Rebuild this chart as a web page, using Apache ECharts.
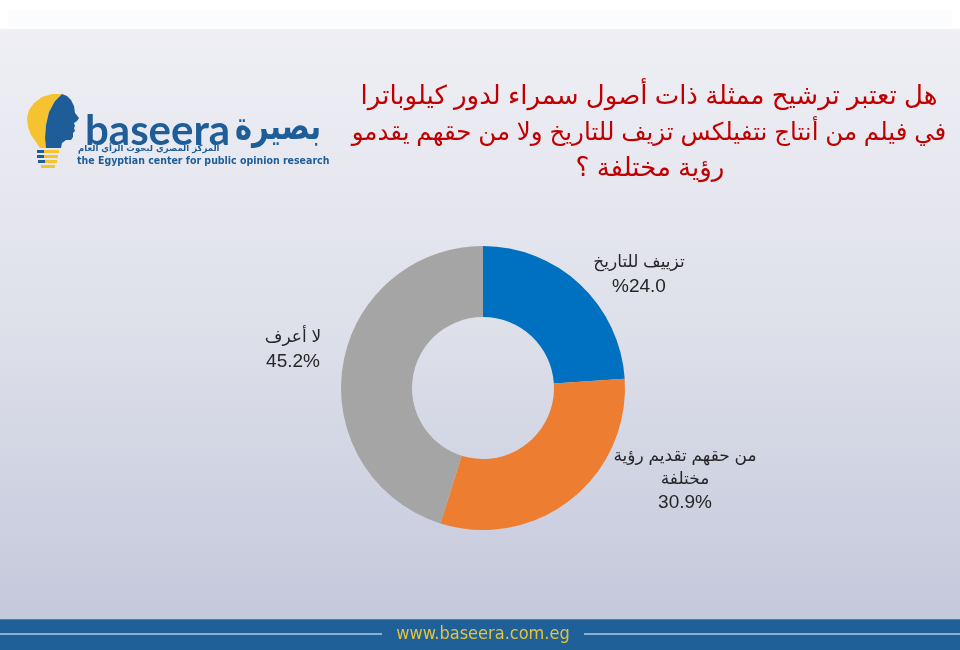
<!DOCTYPE html>
<html>
<head>
<meta charset="utf-8">
<script src="https://cdn.jsdelivr.net/npm/echarts@6/dist/echarts.min.js"></script>
<style>
html,body{margin:0;padding:0;background:#fff;}
#chart{width:960px;height:650px;}
</style>
</head>
<body>
<div id="chart"></div>
<script>
const titleLines = ['هل تعتبر ترشيح ممثلة ذات أصول سمراء لدور كيلوباترا', 'في فيلم من أنتاج نتفيلكس تزيف للتاريخ ولا من حقهم يقدمو', 'رؤية مختلفة ؟'];
const categories = ['تزييف للتاريخ', 'من حقهم تقديم رؤية\nمختلفة', 'لا أعرف'];
const values = [24.0, 30.9, 45.2];
const valueLabels = ['%24.0', '30.9%', '45.2%'];
const colors = ['#0070c0', '#ed7d31', '#a5a5a5'];

const labelPos = [[639, 275], [685, 480], [293, 350]];
const FONT = "'Liberation Sans', 'DejaVu Sans', sans-serif";

const chart = echarts.init(document.getElementById('chart'));

const yellowPts = [[62,94],[52,94],[42,97],[34,103],[29,110],[27,118],[28,127],[31,135],[36,142],[40,148],[46,148],[45,138],[46,125],[49,112],[55,101]];
const bluePts = [[62,94],[55,101],[49,112],[46,125],[45,138],[46,148],[61,148],[62,143],[66,140],[71,140],[73,137],[73,133],[75,131],[74,128],[75,126],[74,123],[77,121],[79,118],[75,113],[74,106],[71,100],[67,96]];

const graphics = [
  // background
  {type:'rect', z:-10, shape:{x:0,y:0,width:960,height:650}, style:{fill:'#ffffff'}},
  {type:'rect', z:-9, shape:{x:8,y:10,width:944,height:20}, style:{fill:'#fbfcfe'}},
  {type:'rect', z:-9, shape:{x:0,y:29,width:960,height:590},
    style:{fill:new echarts.graphic.LinearGradient(0,0,0,1,[{offset:0,color:'#efeff5'},{offset:0.5,color:'#dee0ea'},{offset:1,color:'#c4c8db'}])}},
  // footer
  {type:'rect', z:-8, shape:{x:0,y:619,width:960,height:31}, style:{fill:'#1e6097'}},
  {type:'rect', z:-7, shape:{x:0,y:619,width:960,height:1}, style:{fill:'#4d82b3'}},
  {type:'rect', z:-7, shape:{x:0,y:633,width:382,height:2}, style:{fill:'#8cafd2'}},
  {type:'rect', z:-7, shape:{x:584,y:633,width:376,height:2}, style:{fill:'#8cafd2'}},
  {type:'text', z:5, style:{text:'www.baseera.com.eg', x:483, y:634, align:'center', verticalAlign:'middle',
    fill:'#e3c23f', font:"18px 'Liberation Sans Narrow', 'DejaVu Sans Condensed', sans-serif"}},
  // title
  {type:'text', z:5, style:{text:titleLines[0], x:649, y:97, align:'center', verticalAlign:'middle',
    fill:'#c00000', font:"26px " + FONT}},
  {type:'text', z:5, style:{text:titleLines[1], x:649, y:133, align:'center', verticalAlign:'middle',
    fill:'#c00000', font:"24.5px " + FONT}},
  {type:'text', z:5, style:{text:titleLines[2], x:650, y:169, align:'center', verticalAlign:'middle',
    fill:'#c00000', font:"26px " + FONT}},
  // logo bulb
  {type:'polygon', z:5, shape:{points:yellowPts}, style:{fill:'#f5c330'}},
  {type:'polygon', z:5, shape:{points:bluePts}, style:{fill:'#1f5d98'}},
  // bulb base stripes
  {type:'rect', z:5, shape:{x:37,y:150,width:22,height:3}, style:{fill:'#1f5d98'}},
  {type:'rect', z:6, shape:{x:44,y:150,width:15,height:3}, style:{fill:'#f5c330'}},
  {type:'rect', z:5, shape:{x:37,y:155,width:21,height:3}, style:{fill:'#1f5d98'}},
  {type:'rect', z:6, shape:{x:44,y:155,width:14,height:3}, style:{fill:'#f5c330'}},
  {type:'rect', z:5, shape:{x:38,y:160,width:19,height:3}, style:{fill:'#1f5d98'}},
  {type:'rect', z:6, shape:{x:45,y:160,width:12,height:3}, style:{fill:'#f5c330'}},
  {type:'rect', z:5, shape:{x:41,y:165,width:14,height:3}, style:{fill:'#f5c330'}},
  // logo texts
  {type:'text', z:5, style:{text:'baseera', x:85, y:131, align:'left', verticalAlign:'middle',
    fill:'#1f5d98', font:"bold 42px Lato, 'DejaVu Sans', sans-serif"}},
  {type:'text', z:5, x:321, y:129, scaleX:0.76,
    style:{text:'بصيرة', x:0, y:0, align:'right', verticalAlign:'middle',
    fill:'#1f5d98', font:"bold 38px 'DejaVu Sans', sans-serif"}},
  {type:'text', z:5, style:{text:'المركز المصري لبحوث الرأي العام', x:78, y:149, align:'left', verticalAlign:'middle',
    fill:'#1f5d98', font:"bold 8.5px 'DejaVu Sans', sans-serif"}},
  {type:'text', z:5, style:{text:'the Egyptian center for public opinion research', x:77, y:161, align:'left', verticalAlign:'middle',
    fill:'#1f5d98', font:"bold 10.5px 'DejaVu Sans Condensed', 'DejaVu Sans', sans-serif"}}
];

chart.setOption({
  backgroundColor: 'transparent',
  animation: false,
  graphic: graphics,
  series: [{
    type: 'pie',
    center: [483, 388],
    radius: [71, 142],
    startAngle: 90,
    clockwise: true,
    avoidLabelOverlap: false,
    color: colors,
    itemStyle: {borderWidth: 0},
    label: {
      show: true,
      position: 'outside',
      color: '#262626',
      fontSize: 19,
      lineHeight: 23,
      fontFamily: FONT,
      formatter: function(p){
        return categories[p.dataIndex].split('\n').map(function(l){ return '{a|' + l + '}'; }).join('\n')
          + '\n{v|' + valueLabels[p.dataIndex] + '}';
      },
      rich: {
        a: {fontSize: 17, lineHeight: 23, color: '#262626', fontFamily: FONT},
        v: {fontSize: 19, lineHeight: 25, color: '#262626', fontFamily: FONT}
      }
    },
    labelLine: {show: false},
    labelLayout: function(p){
      const pos = labelPos[p.dataIndex];
      return {x: pos[0], y: pos[1], align: 'center', verticalAlign: 'middle'};
    },
    emphasis: {disabled: true},
    data: categories.map(function(c, i){ return {name: c, value: values[i]}; })
  }]
});
</script>
</body>
</html>
